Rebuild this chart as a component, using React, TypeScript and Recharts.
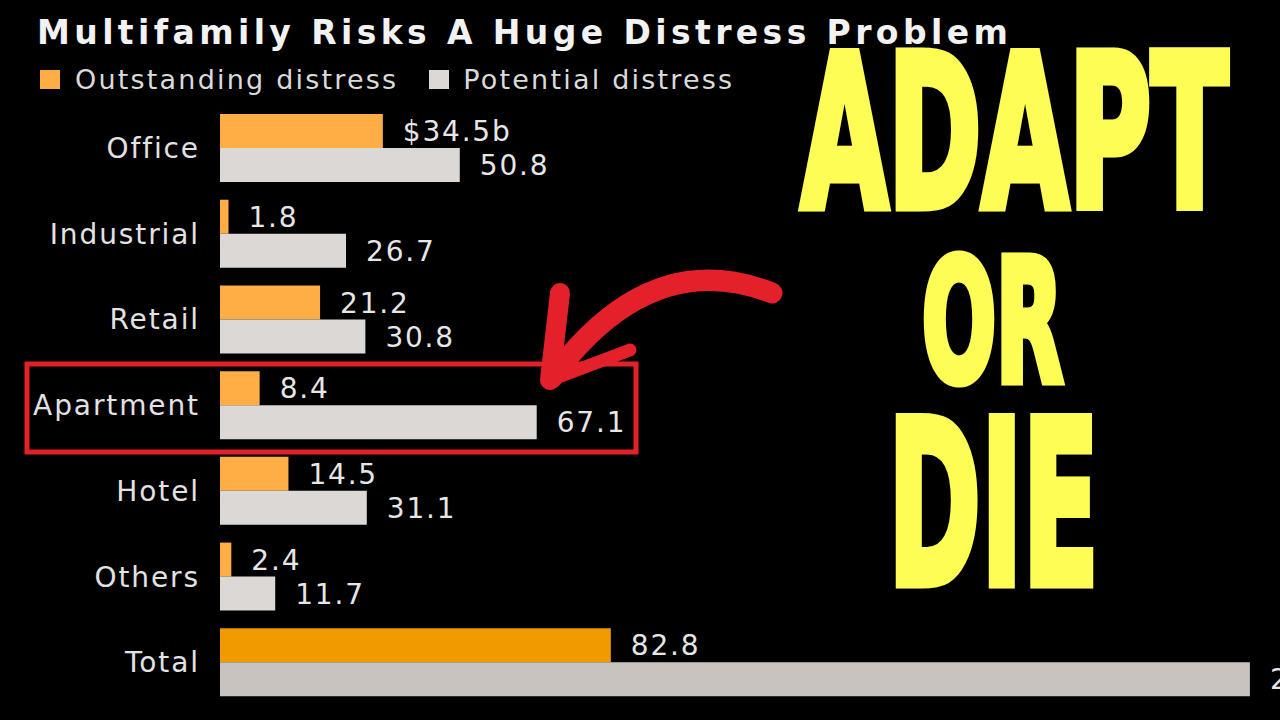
import React from 'react'
import { BarChart, Bar, XAxis, YAxis, Cell, LabelList } from 'recharts'

const categories = ['Office', 'Industrial', 'Retail', 'Apartment', 'Hotel', 'Others', 'Total']
const outstanding = [34.5, 1.8, 21.2, 8.4, 14.5, 2.4, 82.8]
const potential = [50.8, 26.7, 30.8, 67.1, 31.1, 11.7, 218.2]
const seriesNames = ['Outstanding distress', 'Potential distress']

const ORANGE = '#FFAD45'
const ORANGE_TOTAL = '#F09A00'
const GREY = '#DCD8D5'
const GREY_TOTAL = '#C8C3BF'
const RED = '#E4202A'
const YELLOW = '#FDFD55'
const FONT = '"DejaVu Sans", Verdana, sans-serif'

const data = categories.map((name, i) => ({
  name,
  outstanding: outstanding[i],
  potential: potential[i],
  outLabel: i === 0 ? `$${outstanding[i].toFixed(1)}b` : outstanding[i].toFixed(1),
  potLabel: potential[i].toFixed(1),
}))

const CategoryTick = ({ x, y, payload }: any) => (
  <text x={x} y={y} dy="0.36em" textAnchor="end" fill="#E2E2E2" fontSize={28} fontFamily={FONT} letterSpacing={1.9}>
    {payload.value}
  </text>
)

const renderValue = (props: any) => {
  const { x, y, width, height, value } = props
  return (
    <text x={x + width + 20} y={y + height / 2} dy="0.36em" fill="#E6E6E6" fontSize={28} fontFamily={FONT} letterSpacing={1.8}>
      {value}
    </text>
  )
}

export default function App() {
  return (
    <div style={{ position: 'fixed', left: 0, top: 0, width: 1280, height: 720, background: '#000', overflow: 'hidden' }}>
      <div style={{ position: 'absolute', left: 37, top: 13, color: '#F2F2F2', fontFamily: FONT, fontWeight: 'bold', fontSize: 33, letterSpacing: 4.4, whiteSpace: 'nowrap' }}>
        Multifamily Risks A Huge Distress Problem
      </div>
      <div style={{ position: 'absolute', left: 40, top: 64, display: 'flex', alignItems: 'center', fontFamily: FONT, fontSize: 27, color: '#DADADA', letterSpacing: 2.2, whiteSpace: 'nowrap' }}>
        <span style={{ width: 20, height: 19, background: ORANGE, marginRight: 15 }} />
        <span style={{ marginRight: 31 }}>{seriesNames[0]}</span>
        <span style={{ width: 20, height: 19, background: GREY, marginRight: 14 }} />
        <span>{seriesNames[1]}</span>
      </div>
      <div style={{ position: 'absolute', left: 0, top: 0 }}>
        <BarChart width={1400} height={720} data={data} layout="vertical" margin={{ top: 105, right: 0, bottom: 15, left: 0 }} barSize={34} barGap={0}>
          <XAxis type="number" domain={[0, 250]} hide />
          <YAxis type="category" dataKey="name" width={220} axisLine={false} tickLine={false} tickSize={0} tickMargin={20} interval={0} tick={<CategoryTick />} />
          <Bar dataKey="outstanding" name={seriesNames[0]} fill={ORANGE} isAnimationActive={false}>
            {data.map((d, i) => (
              <Cell key={i} fill={d.name === 'Total' ? ORANGE_TOTAL : ORANGE} />
            ))}
            <LabelList dataKey="outLabel" content={renderValue} />
          </Bar>
          <Bar dataKey="potential" name={seriesNames[1]} fill={GREY} isAnimationActive={false}>
            {data.map((d, i) => (
              <Cell key={i} fill={d.name === 'Total' ? GREY_TOTAL : GREY} />
            ))}
            <LabelList dataKey="potLabel" content={renderValue} />
          </Bar>
        </BarChart>
      </div>
      {/* thumbnail overlay: highlight box, arrow and headline */}
      <svg width={1280} height={720} style={{ position: 'absolute', left: 0, top: 0, pointerEvents: 'none' }}>
        <rect x={27} y={364} width={609} height={88} fill="none" stroke={RED} strokeWidth={5} />
        <path d="M772 293 Q 650 245 552 378" fill="none" stroke={RED} strokeWidth={21} strokeLinecap="round" />
        <path d="M550 380 L 560 293" fill="none" stroke={RED} strokeWidth={20} strokeLinecap="round" />
        <path d="M548 381 L 630 350" fill="none" stroke={RED} strokeWidth={13} strokeLinecap="round" />
        <g fill={YELLOW} stroke={YELLOW} strokeWidth={9} strokeLinejoin="miter" fontFamily='"Liberation Sans Narrow", "DejaVu Sans Condensed", sans-serif' fontWeight="bold">
          <text x={801} y={207} fontSize={212} textLength={427} lengthAdjust="spacingAndGlyphs">ADAPT</text>
          <text x={922} y={381} fontSize={170} textLength={141} lengthAdjust="spacingAndGlyphs">OR</text>
          <text x={888} y={584} fontSize={229} textLength={211} lengthAdjust="spacingAndGlyphs">DIE</text>
        </g>
      </svg>
    </div>
  )
}
